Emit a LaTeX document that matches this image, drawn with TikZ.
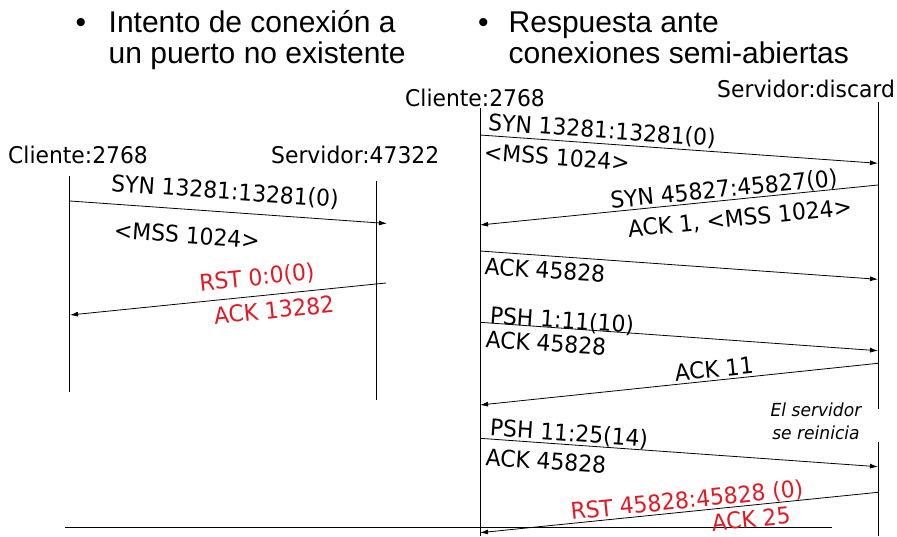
\documentclass[tikz,border=0pt]{standalone}
\usepackage{fontspec}
\setmainfont{Liberation Sans}
\newfontfamily\diagfont[FakeStretch=0.95]{DejaVu Sans}
\usetikzlibrary{arrows.meta}
\definecolor{rstred}{RGB}{225,25,35}
\begin{document}
\begin{tikzpicture}[x=1pt,y=-1pt,
  lifeline/.style={line width=0.8pt, black},
  msg/.style={line width=0.8pt, -{Latex[length=8pt,width=5pt]}},
  lbl/.style={font=\diagfont\fontsize{23}{26}\selectfont, inner sep=0pt},
  hdr/.style={lbl, anchor=base west},
  redlbl/.style={lbl, text=rstred},
  title/.style={font=\fontsize{30}{33}\selectfont, anchor=base west, inner sep=0pt},
  note/.style={font=\diagfont\itshape\fontsize{18}{20}\selectfont, inner sep=0pt}]
\useasboundingbox (0,0) rectangle (897,536);

% ---------- titles ----------
\node[title] (b1) at (75.5,32) {•};
\node[title] (t1) at (108.5,32) {Intento de conexión a};
\node[title] (t2) at (108.5,63.5) {un puerto no existente};
\node[title] (b2) at (478,32) {•};
\node[title] (t3) at (508.5,32) {Respuesta ante};
\node[title] (t4) at (508.5,63.5) {conexiones semi-abiertas};

% ---------- left diagram ----------
\node[hdr] (lcli) at (8,163) {Cliente:2768};
\node[hdr] (lsrv) at (271,163) {Servidor:47322};
\coordinate (lcTop) at (69,176);
\coordinate (lcBot) at (69,392);
\coordinate (lsTop) at (376,181);
\coordinate (lsBot) at (376,400);
\draw[lifeline] (lcTop) -- (lcBot);
\draw[lifeline] (lsTop) -- (lsBot);

\coordinate (l1a) at (70,201);
\coordinate (l1b) at (387,223.5);
\coordinate (l2a) at (386,283);
\coordinate (l2b) at (70,315);
\draw[msg] (l1a) -- (l1b);
\draw[msg] (l2a) -- (l2b);
\node[lbl, rotate=-4] (ls1) at (225,192) {SYN 13281:13281(0)};
\node[lbl, rotate=-4] (ls2) at (187,235) {<MSS 1024>};
\node[redlbl, rotate=5.8] (lr1) at (257,278) {RST 0:0(0)};
\node[redlbl, rotate=5.8] (lr2) at (274,310) {ACK 13282};

% ---------- right diagram ----------
\node[hdr] (rcli) at (405,106.7) {Cliente:2768};
\node[hdr] (rsrv) at (717,97.3) {Servidor:discard};
\coordinate (rcTop) at (480,108);
\coordinate (rcBot) at (480,536);
\coordinate (rsTop) at (878,102);
\coordinate (rsMidA) at (878,409);
\coordinate (rsMidB) at (878,442);
\coordinate (rsBot) at (878,536);
\draw[lifeline] (rcTop) -- (rcBot);
\draw[lifeline] (rsTop) -- (rsMidA);
\draw[lifeline] (rsMidB) -- (rsBot);

\coordinate (r1a) at (480,135);
\coordinate (r1b) at (878,163.3);
\coordinate (r2a) at (878,185);
\coordinate (r2b) at (480,225);
\coordinate (r3a) at (480,251);
\coordinate (r3b) at (878,279.3);
\coordinate (r4a) at (480,322.3);
\coordinate (r4b) at (878,350.7);
\coordinate (r5a) at (878,363.3);
\coordinate (r5b) at (480,405);
\coordinate (r6a) at (480,438.3);
\coordinate (r6b) at (878,466.7);
\coordinate (r7a) at (878,492.3);
\coordinate (r7b) at (480,532.7);
\draw[msg] (r1a) -- (r1b);
\draw[msg] (r2a) -- (r2b);
\draw[msg] (r3a) -- (r3b);
\draw[msg] (r4a) -- (r4b);
\draw[msg] (r5a) -- (r5b);
\draw[msg] (r6a) -- (r6b);
\draw[msg] (r7a) -- (r7b);

\coordinate (hA) at (65,527);
\coordinate (hB) at (832,527);
\draw[lifeline] (hA) -- (hB);

\node[lbl, rotate=-4] (rl1) at (602,131) {SYN 13281:13281(0)};
\node[lbl, rotate=-4] (rl2) at (557,157) {<MSS 1024>};
\node[lbl, rotate=5.7] (rl3) at (724,190) {SYN 45827:45827(0)};
\node[lbl, rotate=5.7] (rl4) at (740,219) {ACK 1, <MSS 1024>};
\node[lbl, rotate=-4] (rl5) at (545,270) {ACK 45828};
\node[lbl, rotate=-4] (rl6) at (562,321) {PSH 1:11(10)};
\node[lbl, rotate=-4] (rl7) at (546,343) {ACK 45828};
\node[lbl, rotate=5.9] (rl8) at (714,369) {ACK 11};
\node[note] (n1) at (816,410) {El servidor};
\node[note] (n2) at (816,433) {se reinicia};
\node[lbl, rotate=-4] (rl9) at (569,434) {PSH 11:25(14)};
\node[lbl, rotate=-4] (rl10) at (546,461) {ACK 45828};
\node[redlbl, rotate=5.8] (rl11) at (687,501) {RST 45828:45828 (0)};
\node[redlbl, rotate=5.8] (rl12) at (751,519) {ACK 25};
\end{tikzpicture}
\end{document}
